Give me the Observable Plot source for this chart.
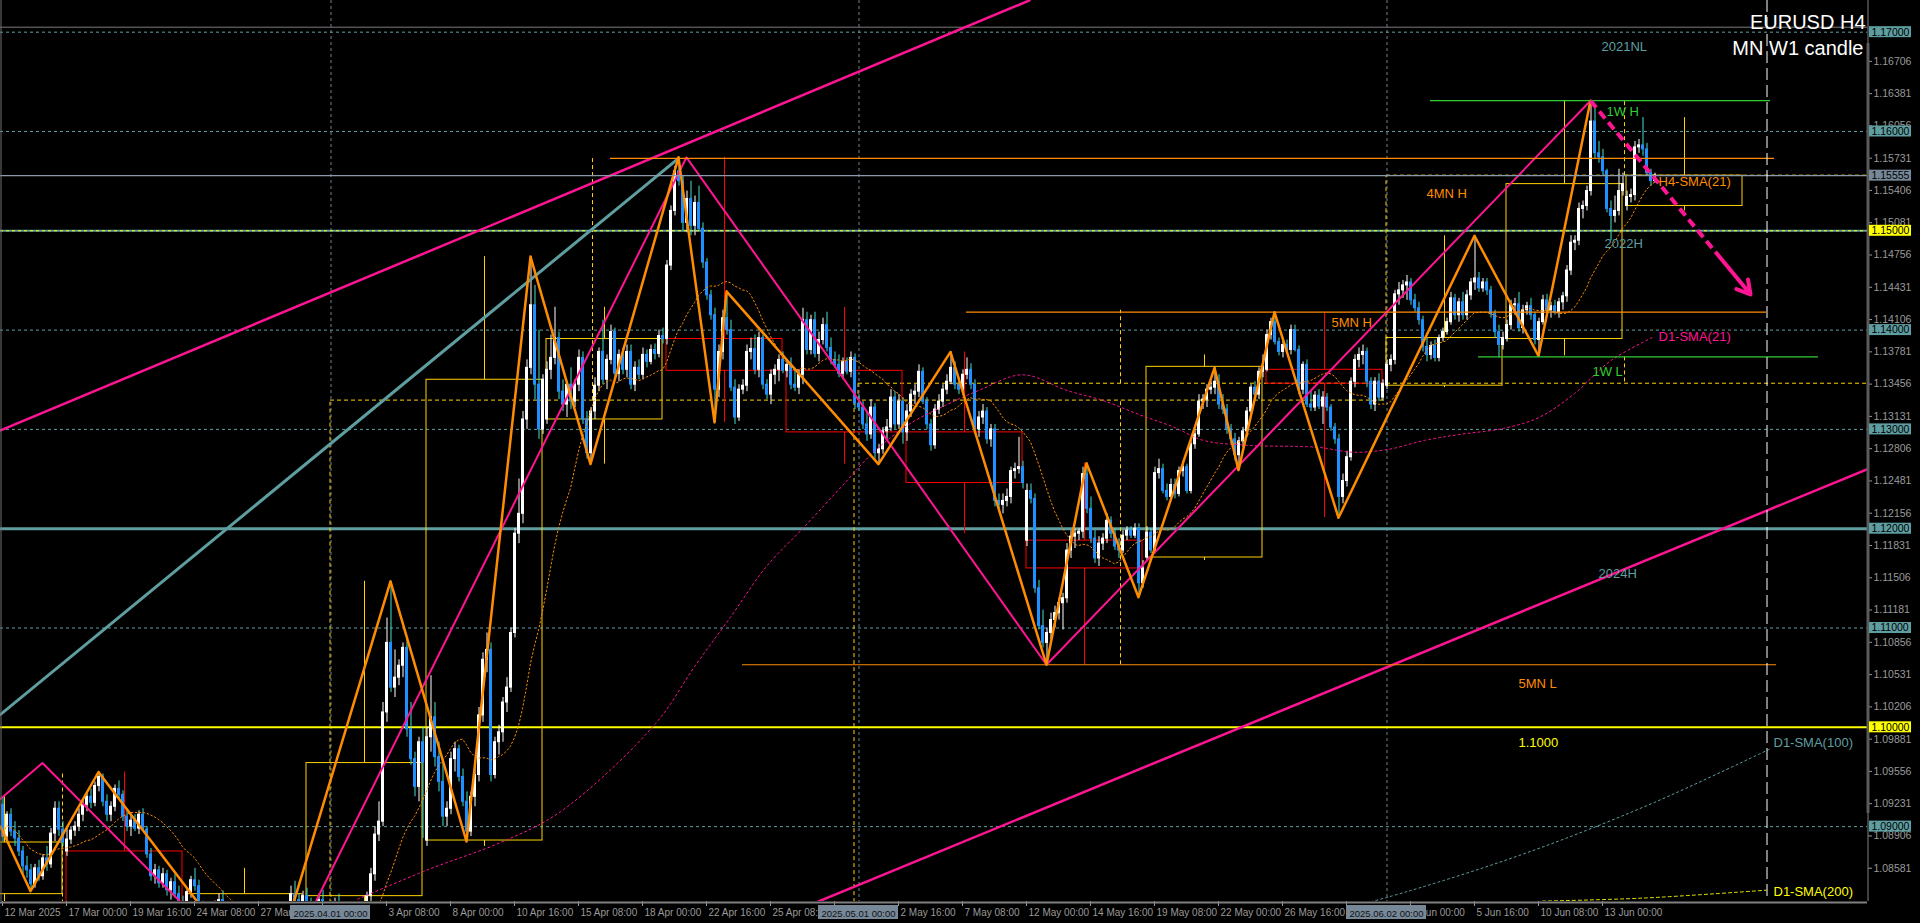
<!DOCTYPE html>
<html><head><meta charset="utf-8">
<script src="https://cdn.jsdelivr.net/npm/d3@7"></script>
<script src="https://cdn.jsdelivr.net/npm/@observablehq/plot@0.6"></script>
<style>
html,body{margin:0;padding:0;background:#000;overflow:hidden;}
#chart svg{display:block;}
</style></head><body><div id="chart"></div>
<script>
// ---------------- DATA (prices in pips above 1.0000, i.e. 1234 = 1.1234) ----------------
// H4 candles, bar 0 = 12 Mar 2025 08:00 ... bar 413 = 17 Jun 2025 04:00  [open, high, low, close]
const h4 = [
[922,930,885,890],[890,915,885,912],[912,918,890,895],[895,905,880,888],[888,896,870,875],[875,880,852,860],[860,870,848,856],[856,862,835,842],[842,862,838,858],[858,866,845,850],
[850,872,846,868],[868,880,855,862],[862,898,858,893],[893,925,885,918],[918,925,890,897],[897,905,880,884],[875,900,870,887],[887,900,882,896],[896,905,890,900],[900,918,895,912],
[912,928,905,922],[922,935,915,930],[930,938,918,924],[924,945,920,941],[941,955,935,950],[950,953,920,925],[925,932,905,912],[912,925,905,920],[920,942,915,938],[938,946,928,932],
[932,936,905,910],[910,918,895,900],[900,912,890,906],[906,912,895,898],[898,916,892,912],[912,918,895,897],[897,900,868,872],[872,878,845,850],[850,862,842,856],[856,860,838,843],
[843,858,838,852],[852,856,830,836],[836,848,826,844],[844,852,828,832],[832,840,815,822],[822,830,810,818],[818,838,812,834],[834,850,828,846],[846,858,835,840],[840,846,812,818],
[818,825,802,806],[806,812,798,802],[802,812,796,808],[808,825,800,818],[818,832,810,826],[826,835,812,815],[815,822,795,800],[800,806,790,795],[795,802,785,790],[790,798,776,780],
[780,786,760,764],[764,772,748,752],[752,760,745,755],[755,760,746,750],[750,756,738,745],[745,752,733,748],[748,772,744,768],[768,790,762,784],[784,805,778,798],[798,804,790,800],
[800,812,795,808],[808,822,802,818],[818,840,812,832],[832,845,822,826],[826,832,808,812],[812,835,808,830],[830,838,818,822],[822,828,800,806],[806,818,795,812],[812,832,806,826],
[826,836,812,816],[816,822,805,812],[812,822,805,818],[818,828,810,824],[824,832,796,800],[800,808,780,785],[785,800,778,795],[795,800,788,792],[792,802,785,798],[798,812,790,806],
[806,818,796,802],[802,834,798,830],[830,858,824,852],[852,900,845,892],[892,925,885,905],[905,1025,900,1015],[1015,1110,1005,1085],[1085,1147,1035,1040],[1040,1078,1030,1050],[1050,1068,1042,1062],
[1062,1085,1050,1080],[1080,1090,990,998],[998,1025,962,968],[968,975,930,940],[940,990,925,985],[985,1000,888,964],[886,1000,880,990],[990,1052,975,1010],[1010,1025,960,970],[970,985,935,945],
[945,965,900,910],[910,925,900,918],[918,975,912,968],[968,985,955,978],[978,982,945,950],[950,958,920,925],[925,935,885,895],[895,935,890,930],[930,960,920,952],[952,1020,945,1012],
[1012,1075,1005,1068],[1068,1095,1055,1078],[1078,1085,945,952],[952,990,948,985],[985,1002,972,995],[995,1030,985,1025],[1025,1050,1015,1040],[1040,1100,1035,1095],[1095,1200,1090,1195],[1195,1250,1185,1215],
[1215,1318,1205,1310],[1310,1370,1300,1362],[1362,1474,1355,1425],[1425,1445,1330,1345],[1345,1400,1290,1300],[1300,1355,1295,1350],[1310,1368,1305,1360],[1360,1395,1350,1372],[1372,1423,1365,1392],[1392,1398,1330,1338],
[1338,1350,1318,1325],[1325,1348,1312,1345],[1345,1362,1320,1328],[1328,1350,1322,1345],[1345,1380,1338,1372],[1372,1378,1305,1310],[1310,1318,1270,1276],[1276,1322,1265,1318],[1318,1352,1310,1344],[1344,1382,1338,1378],
[1378,1410,1345,1350],[1350,1375,1340,1370],[1370,1405,1365,1398],[1398,1402,1350,1356],[1356,1380,1348,1375],[1375,1382,1355,1360],[1360,1385,1352,1378],[1378,1385,1340,1345],[1345,1368,1338,1362],[1362,1370,1350,1355],
[1355,1382,1350,1375],[1375,1380,1362,1368],[1368,1385,1365,1380],[1380,1386,1370,1376],[1376,1400,1372,1394],[1394,1402,1386,1391],[1391,1470,1385,1465],[1465,1525,1460,1520],[1520,1565,1515,1560],[1560,1574,1545,1550],
[1550,1555,1500,1508],[1508,1540,1498,1532],[1532,1550,1495,1505],[1505,1535,1495,1528],[1528,1545,1500,1502],[1502,1508,1462,1468],[1468,1472,1430,1435],[1435,1440,1410,1415],[1415,1422,1307,1340],[1340,1385,1332,1378],
[1378,1420,1370,1412],[1412,1439,1395,1400],[1400,1410,1338,1342],[1342,1350,1305,1312],[1312,1345,1308,1340],[1340,1350,1335,1344],[1344,1385,1338,1378],[1378,1392,1370,1381],[1381,1395,1355,1360],[1360,1398,1352,1392],
[1392,1395,1340,1345],[1345,1350,1330,1335],[1335,1360,1325,1355],[1355,1365,1345,1360],[1360,1375,1348,1370],[1370,1378,1356,1359],[1359,1370,1352,1365],[1365,1372,1340,1345],[1345,1360,1338,1342],[1342,1360,1335,1355],
[1355,1422,1345,1410],[1410,1418,1375,1380],[1380,1415,1375,1410],[1410,1418,1372,1376],[1376,1398,1368,1390],[1390,1412,1385,1405],[1405,1418,1378,1382],[1382,1392,1365,1370],[1370,1378,1362,1365],[1365,1375,1352,1356],
[1356,1372,1350,1368],[1368,1372,1355,1358],[1358,1378,1352,1372],[1372,1376,1320,1326],[1326,1335,1318,1322],[1322,1328,1300,1305],[1305,1318,1288,1295],[1295,1330,1290,1322],[1322,1326,1270,1276],[1276,1285,1265,1280],
[1280,1302,1275,1298],[1298,1310,1290,1302],[1302,1340,1298,1332],[1332,1338,1300,1305],[1305,1335,1300,1328],[1328,1332,1285,1297],[1297,1325,1288,1318],[1318,1340,1312,1335],[1335,1345,1325,1338],[1338,1365,1332,1358],
[1358,1362,1325,1328],[1328,1332,1300,1305],[1305,1310,1278,1284],[1284,1325,1280,1320],[1320,1335,1315,1328],[1328,1345,1322,1340],[1340,1355,1335,1348],[1348,1378,1345,1362],[1362,1368,1340,1345],[1345,1352,1335,1340],
[1340,1360,1335,1355],[1355,1372,1350,1360],[1360,1366,1340,1345],[1345,1350,1295,1300],[1300,1318,1292,1312],[1312,1325,1305,1318],[1318,1322,1285,1290],[1290,1305,1282,1300],[1300,1305,1222,1228],[1228,1235,1218,1224],
[1224,1235,1215,1228],[1228,1240,1222,1232],[1232,1262,1225,1258],[1258,1266,1250,1260],[1260,1292,1255,1262],[1262,1268,1240,1246],[1188,1245,1182,1238],[1238,1245,1225,1230],[1230,1235,1135,1140],[1140,1148,1098,1102],
[1102,1118,1080,1085],[1085,1100,1063,1095],[1095,1115,1088,1108],[1108,1122,1100,1115],[1115,1130,1108,1125],[1125,1135,1098,1130],[1130,1185,1125,1178],[1178,1198,1170,1192],[1192,1200,1180,1195],[1195,1200,1188,1197],
[1197,1262,1190,1255],[1255,1266,1215,1220],[1220,1232,1185,1190],[1190,1198,1165,1170],[1170,1192,1162,1185],[1185,1195,1178,1190],[1190,1215,1185,1208],[1208,1212,1190,1195],[1195,1200,1178,1182],[1182,1190,1170,1178],
[1178,1198,1175,1193],[1193,1202,1188,1198],[1198,1202,1190,1193],[1193,1205,1190,1200],[1200,1205,1131,1145],[1145,1168,1140,1160],[1171,1202,1168,1196],[1196,1200,1175,1178],[1178,1262,1175,1256],[1256,1270,1250,1260],
[1260,1265,1235,1238],[1238,1245,1228,1232],[1232,1250,1228,1244],[1244,1250,1230,1235],[1235,1262,1232,1258],[1258,1268,1252,1262],[1262,1265,1235,1238],[1238,1290,1235,1285],[1285,1300,1280,1295],[1295,1335,1292,1328],
[1328,1335,1320,1330],[1330,1345,1322,1340],[1340,1348,1335,1342],[1342,1362,1335,1348],[1348,1355,1320,1325],[1325,1335,1315,1320],[1320,1325,1295,1300],[1300,1305,1285,1290],[1290,1296,1268,1274],[1274,1292,1259,1288],
[1288,1302,1282,1298],[1298,1322,1292,1318],[1318,1345,1312,1342],[1342,1348,1330,1335],[1335,1362,1330,1358],[1358,1375,1352,1363],[1360,1400,1358,1395],[1395,1412,1390,1408],[1408,1418,1385,1388],[1388,1392,1374,1378],
[1378,1390,1372,1385],[1385,1390,1378,1380],[1380,1405,1375,1400],[1400,1405,1378,1380],[1380,1384,1335,1340],[1340,1368,1335,1365],[1365,1370,1322,1325],[1325,1338,1318,1322],[1322,1338,1318,1334],[1334,1340,1320,1323],
[1323,1338,1305,1332],[1332,1336,1318,1322],[1322,1325,1298,1302],[1302,1306,1285,1290],[1290,1295,1211,1232],[1232,1255,1225,1248],[1248,1278,1242,1272],[1272,1352,1268,1348],[1348,1375,1342,1370],[1370,1382,1362,1375],
[1375,1385,1365,1378],[1378,1382,1342,1348],[1348,1352,1320,1325],[1325,1352,1318,1348],[1348,1356,1328,1332],[1332,1350,1328,1346],[1344,1370,1340,1365],[1365,1375,1358,1370],[1370,1440,1365,1436],[1436,1448,1425,1440],
[1440,1450,1432,1445],[1445,1455,1430,1448],[1448,1452,1425,1430],[1430,1436,1418,1422],[1422,1428,1405,1410],[1410,1414,1378,1383],[1383,1392,1368,1375],[1375,1388,1370,1384],[1384,1390,1368,1372],[1372,1395,1368,1392],
[1392,1402,1388,1398],[1398,1412,1395,1408],[1408,1438,1405,1432],[1432,1436,1410,1415],[1415,1432,1408,1428],[1428,1438,1410,1415],[1415,1440,1410,1435],[1435,1452,1430,1448],[1448,1495,1440,1452],[1452,1458,1438,1442],
[1442,1452,1438,1448],[1448,1452,1435,1440],[1440,1444,1412,1416],[1416,1420,1392,1398],[1398,1405,1372,1385],[1385,1398,1380,1392],[1391,1410,1388,1405],[1405,1430,1400,1425],[1425,1432,1415,1426],[1426,1438,1398,1402],
[1402,1425,1396,1420],[1420,1428,1415,1424],[1424,1432,1410,1415],[1415,1418,1385,1390],[1390,1412,1374,1408],[1408,1435,1405,1430],[1430,1436,1418,1420],[1420,1428,1412,1424],[1424,1430,1415,1418],[1418,1432,1412,1428],
[1428,1438,1420,1434],[1434,1465,1428,1460],[1460,1495,1455,1488],[1488,1495,1480,1490],[1490,1528,1485,1522],[1522,1530,1512,1525],[1525,1545,1520,1540],[1540,1631,1535,1610],[1610,1625,1572,1578],[1578,1590,1568,1574],
[1574,1582,1555,1560],[1560,1562,1518,1522],[1522,1530,1490,1515],[1515,1535,1508,1520],[1520,1562,1515,1540],[1540,1558,1535,1547],[1525,1540,1520,1534],[1534,1542,1528,1536],[1536,1590,1530,1584],[1584,1592,1578,1586],
[1586,1614,1575,1582],[1582,1588,1555,1558],[1558,1562,1545,1550],[1550,1558,1548,1555.5]
];

// Weekly (W1) candles: first bar, last bar, O, H, L, C
const wkStart = [-14,16,46,76,106,136,166,196,226,256,286,316,346,376,406];
const wkEnd   = [15,45,75,105,135,165,195,225,255,285,315,345,375,405,435];
const wkO = [832,875,818,830,886,1310,1391,1359,1297,1188,1171,1360,1344,1391,1525];
const wkH = [930,955,858,1147,1474,1423,1574,1423,1378,1266,1375,1418,1495,1631,1614];
const wkL = [807,810,733,778,880,1265,1307,1265,1195,1063,1168,1211,1342,1374,1520];
const wkC = [884,818,832,964,1350,1391,1359,1297,1246,1160,1363,1346,1392,1547,1555.5];

// Monthly (MN) candles
const mnStart = [-51,82,214,346];
const mnEnd   = [81,213,345,471];
const mnWick  = [15,147.5,279.5,405.5];
const mnO = [375,793,1329,1346];
const mnH = [955,1574,1420,1631];
const mnL = [360,777,1063,1373];
const mnC = [815,1329,1346,1555.5];
const mnSepLabels = ["2025.04.01 00:00","2025.05.01 00:00","2025.06.02 00:00"];

// Zigzags & trend lines [bar, pips]
const zigOrange = [[-0.5,900],[7,835],[24,955],[66,733],[97,1147],[116,885],[132,1474],[147,1265],[169,1574],[178,1307],[181,1439],[219,1265],[237,1378],[261,1063],[271,1266],[284,1131],[303,1362],[309,1259],[318,1418],[334,1211],[368,1495],[384,1374],[397,1631]];
const zigPink = [[-0.5,928],[10,964],[67,733],[171,1574],[261,1063],[397,1631]];
const tealTrend = [[-0.5,1013],[169,1573]];
const channelUpper = [[-0.5,1299],[256.75,1732]];
const channelLower = [[200,818],[466.25,1260]];
const forecastArrow = [[397,1631],[437,1436]];

// D1 moving averages [bar, pips]
const d1Sma21 = [[88.8,827],[106.6,857],[124.5,884],[139.5,915],[163.3,1004],[173,1061],[182,1111],[191,1162],[200,1200],[209,1239],[218,1278],[226.6,1305],[235.6,1324],[244.5,1340],[255,1355],[266.3,1339],[275.2,1329],[284.1,1315],[293,1302],[300.2,1289],[311,1284],[328.8,1282],[337.7,1277],[346.6,1280],[355.6,1289],[364.5,1295],[375.2,1301],[384.1,1312],[393,1336],[402,1369],[412.7,1393]];
const d1Sma100 = [[324,805],[351.5,835],[382,875],[412.75,924],[441.75,978]];
const d1Sma200 = [[385,825],[410,828],[441,836]];

// Horizontal levels
const roundLevels = [1.17,1.16,1.14,1.13,1.11,1.09];
const bidPrice = 1.15555;
const levelNames = ["4MN H","5MN H","5MN L","1W H","1W L"];
const levelPrice = [1573,1418,1063,1631,1373];
const levelFrom  = [152,241,185,357,369];
const levelTo    = [443,441,443.5,442,454];

// Axis tick labels
const yTickVals = [1.08581,1.08906,1.09231,1.09556,1.09881,1.10206,1.10531,1.10856,1.11181,1.11506,1.11831,1.12156,1.12481,1.12806,1.13131,1.13456,1.13781,1.14106,1.14431,1.14756,1.15081,1.15406,1.15731,1.16056,1.16381,1.16706];
const xTickBars = [0,16,32,48,64,80,96,112,128,144,160,176,192,208,224,240,256,272,288,304,320,336,352,368,384,400];
const xTickLabels = ["12 Mar 2025","17 Mar 00:00","19 Mar 16:00","24 Mar 08:00","27 Mar 00:00","","3 Apr 08:00","8 Apr 00:00","10 Apr 16:00","15 Apr 08:00","18 Apr 00:00","22 Apr 16:00","25 Apr 08:00","","2 May 16:00","7 May 08:00","12 May 00:00","14 May 16:00","19 May 08:00","22 May 00:00","26 May 16:00","","3 Jun 00:00","5 Jun 16:00","10 Jun 08:00","13 Jun 00:00"];
const priceBoxes = [1.17,1.16,1.15555,1.15,1.14,1.13,1.12,1.11,1.10,1.09];
const futureBar = 441;

// Annotations
const notes = [
  {t:"2021NL", b:399.75, p:1.16851, k:"teal"},
  {t:"1W H", b:401, p:1.16194, k:"green"},
  {t:"4MN H", b:356, p:1.15376, k:"orange"},
  {t:"H4-SMA(21)", b:414, p:1.15490, k:"orange"},
  {t:"2022H", b:400.5, p:1.14872, k:"teal"},
  {t:"5MN H", b:332.25, p:1.14069, k:"orange"},
  {t:"D1-SMA(21)", b:414, p:1.13936, k:"pink"},
  {t:"1W L", b:397.5, p:1.13583, k:"green"},
  {t:"2024H", b:399, p:1.11549, k:"teal"},
  {t:"5MN L", b:379, p:1.10442, k:"orange"},
  {t:"1.1000", b:379, p:1.09846, k:"yellow"},
  {t:"D1-SMA(100)", b:442.75, p:1.09846, k:"teal"},
  {t:"D1-SMA(200)", b:442.75, p:1.08347, k:"yellow"}
];

// ---------------- CHART ----------------
const pip = v => 1 + v / 10000;
const W = 1920, H = 923, mR = 53, mB = 22;
const X0 = -0.5, X1 = 466.25, Y0 = 1.08246, Y1 = 1.17319;
const ppx = (Y1 - Y0) / (H - mB);         // price per pixel
const bpx = (X1 - X0) / (W - mR);         // bars per pixel
const atPx = px => Y1 - px * ppx;

const C = {teal:"#5f9ea0", gold:"#ffd200", orange:"#ff8c00", pink:"#ff1493", green:"#32cd32", yellow:"#ffff00", red:"#ff0000"};
const fontUI = "Liberation Sans, Arial, sans-serif";
const fontAxis = "Liberation Sans, Arial, sans-serif";

const rows = h4.map(([o,h,l,c], i) => ({i, o:pip(o), h:pip(h), l:pip(l), c:pip(c), up: c >= o}));
const weeks = wkStart.map((s,k) => ({s, e:wkEnd[k], o:pip(wkO[k]), h:pip(wkH[k]), l:pip(wkL[k]), c:pip(wkC[k]), up: wkC[k] >= wkO[k]}));
const months = mnStart.map((s,k) => ({s, e:mnEnd[k], w:mnWick[k], o:pip(mnO[k]), h:pip(mnH[k]), l:pip(mnL[k]), c:pip(mnC[k])}));
const pts = arr => arr.map(([b,v]) => ({b, p:pip(v)}));
const levels = levelNames.map((n,k) => ({n, p:pip(levelPrice[k]), a:levelFrom[k], z:levelTo[k]}));
const ax = forecastArrow;
const headFrom = {b: ax[0][0] + 0.82*(ax[1][0]-ax[0][0]), v: ax[0][1] + 0.82*(ax[1][1]-ax[0][1])};
const xTicks = xTickBars.map((b,i) => ({b, t:xTickLabels[i]})).filter(d => d.t);

const lineOf = (arr, o) => Plot.line(pts(arr), {x:"b", y:"p", clip:true, ...o});
const boxColor = v => v === bidPrice ? "#778899" : (v === 1.15 || v === 1.10) ? C.yellow : C.teal;

const marks = [
  // period separators (monthly)
  Plot.ruleX(mnStart.slice(1), {stroke:"#708090", strokeDasharray:"3,3", dx:0.5}),
  // round number levels
  Plot.ruleY(roundLevels, {stroke:C.teal, strokeDasharray:"3,3"}),
  Plot.ruleY([1.1705], {stroke:"#7a7a7a"}),
  Plot.ruleY([1.15], {stroke:C.teal, strokeWidth:2}),
  Plot.ruleY([1.15], {stroke:C.yellow, strokeDasharray:"3,3"}),
  Plot.ruleY([1.12], {stroke:C.teal, strokeWidth:3}),
  Plot.ruleY([1.10], {stroke:C.yellow, strokeWidth:2}),
  // MN candles (dashed)
  Plot.rect(months, {x1:"s", x2:"e", y1:"o", y2:"c", fill:"none", stroke:C.gold, strokeDasharray:"4,3", clip:true}),
  Plot.ruleX(months, {x:"w", y1:d=>Math.max(d.o,d.c), y2:"h", stroke:C.gold, strokeDasharray:"4,3", clip:true}),
  Plot.ruleX(months, {x:"w", y1:"l", y2:d=>Math.min(d.o,d.c), stroke:C.gold, strokeDasharray:"4,3", clip:true}),
  // W1 candles
  Plot.rect(weeks, {x1:"s", x2:"e", y1:"o", y2:"c", fill:"none", stroke:d=>d.up?C.gold:C.red, clip:true}),
  Plot.ruleX(weeks, {x:d=>(d.s+d.e)/2, y1:d=>Math.max(d.o,d.c), y2:"h", stroke:d=>d.up?C.gold:C.red, clip:true}),
  Plot.ruleX(weeks, {x:d=>(d.s+d.e)/2, y1:"l", y2:d=>Math.min(d.o,d.c), stroke:d=>d.up?C.gold:C.red, clip:true}),
  // H4 candles
  Plot.ruleX(rows, {x:"i", y1:"l", y2:"h", stroke:d=>d.up?"#ffffff":"#40e0d0", dx:0.5, clip:true}),
  Plot.rect(rows, {x1:d=>d.i-0.375, x2:d=>d.i+0.375, y1:"o", y2:"c", fill:d=>d.up?"#ffffff":"#1e90ff", insetTop:-0.5, insetBottom:-0.5, dx:0.5, clip:true}),
  // moving averages
  Plot.lineY(rows, Plot.windowY({k:21, anchor:"end"}, {x:"i", y:"c", stroke:C.orange, strokeWidth:1, strokeDasharray:"1.5,2.5", clip:true})),
  lineOf(d1Sma21, {stroke:C.pink, strokeWidth:1, strokeDasharray:"2,3", curve:"catmull-rom"}),
  lineOf(d1Sma100, {stroke:C.teal, strokeWidth:1, strokeDasharray:"2,3", curve:"catmull-rom"}),
  lineOf(d1Sma200, {stroke:"#e6e600", strokeWidth:1, strokeDasharray:"3,3", curve:"catmull-rom"}),
  // trend lines and zigzags
  lineOf(channelUpper, {stroke:C.pink, strokeWidth:2.5}),
  lineOf(channelLower, {stroke:C.pink, strokeWidth:2.5}),
  lineOf(tealTrend, {stroke:C.teal, strokeWidth:3}),
  lineOf(zigPink, {stroke:C.pink, strokeWidth:2}),
  lineOf(zigOrange, {stroke:C.orange, strokeWidth:2.5}),
  // named levels
  Plot.ruleY(levels, {y:"p", x1:"a", x2:"z", stroke:d=>d.n.startsWith("1W")?C.green:C.orange, strokeWidth:1.2, clip:true}),
  // bid line
  Plot.ruleY([bidPrice], {stroke:"#8a9aab", strokeWidth:1.3}),
  // future marker
  Plot.ruleX([futureBar], {stroke:"#ffffff", strokeDasharray:"12,5", dx:0.5}),
  // forecast arrow
  Plot.link([0], {x1:()=>ax[0][0], y1:()=>pip(ax[0][1]), x2:()=>headFrom.b, y2:()=>pip(headFrom.v), stroke:C.pink, strokeWidth:4, strokeDasharray:"9,5"}),
  Plot.arrow([0], {x1:()=>headFrom.b, y1:()=>pip(headFrom.v), x2:()=>ax[1][0], y2:()=>pip(ax[1][1]), stroke:C.pink, strokeWidth:4, headLength:16}),
  // annotations
  Plot.text(notes, {x:"b", y:"p", text:"t", fill:d=>C[d.k], textAnchor:"start", fontSize:13, fontFamily:fontUI}),
  // frame
  Plot.ruleX([X0], {stroke:"#707070", dx:0.5}),
  Plot.ruleX([X1], {stroke:"#808080", dx:0.5}),
  Plot.ruleX([X1], {y1:()=>atPx(43), y2:()=>atPx(813), stroke:"#5a5a5a", strokeWidth:3, dx:0.5}),
  Plot.ruleY([Y0], {stroke:"#808080", strokeWidth:2, dy:1}),
  // x tick labels
  Plot.text(xTicks, {x:"b", text:"t", frameAnchor:"bottom", dy:14, dx:2, textAnchor:"start", fill:"#9a9a9a", fontSize:10, fontFamily:fontAxis}),
  // period separator date boxes
  Plot.rect(mnStart.slice(1), {x1:d=>d-40*bpx, x2:d=>d+40*bpx, y1:()=>atPx(H-mB+4), y2:()=>atPx(H-4), fill:"#778899"}),
  Plot.text(mnStart.slice(1), {x:d=>d, y:()=>atPx(H-mB+12), text:(d,i)=>mnSepLabels[i], fill:"#111", fontSize:9.5, fontFamily:fontAxis}),
  // price label boxes
  Plot.rect(priceBoxes, {x1:()=>X1+2*bpx, x2:()=>X1+44*bpx, y1:d=>d-5.5*ppx, y2:d=>d+5.5*ppx, fill:boxColor}),
  Plot.text(priceBoxes, {x:()=>X1+4*bpx, y:d=>d, text:d=>d3.format(".5f")(d), fill:"#000", textAnchor:"start", fontSize:10.5, fontFamily:fontAxis}),
  // title
  Plot.text(["EURUSD H4"], {text:d=>d, frameAnchor:"top-right", dx:-2, dy:14, textAnchor:"end", fill:"#ffffff", fontSize:20, fontFamily:fontUI}),
  Plot.text(["MN W1 candle"], {text:d=>d, frameAnchor:"top-right", dx:-4, dy:40, textAnchor:"end", fill:"#ffffff", fontSize:20, fontFamily:fontUI})
];

const chart = Plot.plot({
  width: W, height: H,
  marginLeft: 0, marginRight: mR, marginTop: 0, marginBottom: mB,
  style: {background:"#000", color:"#9a9a9a", fontFamily:fontAxis, fontSize:"10.5px", overflow:"visible"},
  x: {domain:[X0, X1], axis:"bottom", ticks:xTickBars, tickFormat:()=>"", tickSize:5, label:null},
  y: {domain:[Y0, Y1], axis:"right", ticks:yTickVals, tickFormat:d3.format(".5f"), tickSize:4, tickPadding:2, label:null},
  marks
});
document.getElementById("chart").appendChild(chart);
</script></body></html>
